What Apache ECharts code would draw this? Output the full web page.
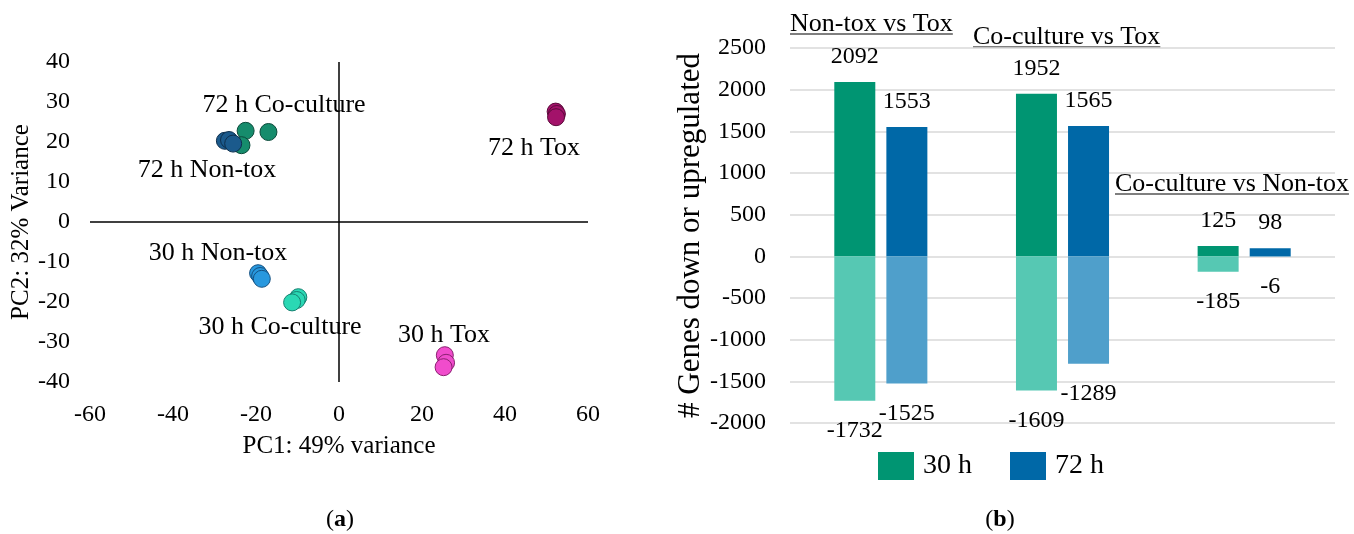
<!DOCTYPE html>
<html>
<head>
<meta charset="utf-8">
<script src="https://cdn.jsdelivr.net/npm/echarts@6/dist/echarts.min.js"></script>
<style>
  html, body { margin: 0; padding: 0; background: #fff; }
  #main { width: 1354px; height: 534px; }
</style>
</head>
<body>
<div id="main"></div>
<script>
var FONT = '"Liberation Serif", serif';

// (a) PCA scores, [PC1, PC2]
var pts72Coculture = [[-22.5, 22.8], [-17, 22.5], [-23.5, 19.2]];
var pts72Nontox = [[-27.5, 20.3], [-26.5, 20.5], [-25.5, 19.6]];
var pts72Tox = [[52.2, 27.6], [52.5, 27], [52.3, 26.2]];
var pts30Nontox = [[-19.5, -12.8], [-19, -13.5], [-18.6, -14.2]];
var pts30Coculture = [[-9.8, -18.8], [-10.2, -19.5], [-11.3, -20.1]];
var pts30Tox = [[25.5, -33.3], [25.8, -35.2], [25.2, -36.3]];

// (b) number of genes
var comparisons = ['Non-tox vs Tox', 'Co-culture vs Tox', 'Co-culture vs Non-tox'];
var up30 = [2092, 1952, 125];
var down30 = [-1732, -1609, -185];
var up72 = [1553, 1565, 98];
var down72 = [-1525, -1289, -6];

var myChart = echarts.init(document.getElementById('main'));

function measure(txt, font) {
  var ctx = document.createElement('canvas').getContext('2d');
  ctx.font = font;
  return ctx.measureText(txt).width;
}

function note(txt, x, y) {
  return {
    type: 'text', x: x, y: y, z: 10,
    style: { text: txt, font: '26px ' + FONT, fill: '#000', align: 'center', verticalAlign: 'middle' }
  };
}

function underlined(txt, x, y) {
  var f = '26px ' + FONT;
  var w = measure(txt, f);
  return {
    type: 'group', z: 10,
    children: [
      { type: 'text', x: x, y: y, style: { text: txt, font: f, fill: '#000', align: 'left', verticalAlign: 'middle' } },
      { type: 'line', shape: { x1: x, y1: y + 10, x2: x + w, y2: y + 10 }, style: { stroke: '#000', lineWidth: 1.2 } }
    ]
  };
}

function dots(name, data, color, border) {
  return {
    name: name, type: 'scatter', xAxisIndex: 0, yAxisIndex: 0,
    data: data, symbolSize: 17,
    itemStyle: { color: color, borderColor: border, borderWidth: 1, opacity: 1 }
  };
}

var labelTxt = { color: '#000', fontFamily: FONT, fontSize: 24 };
var plain = function (v) { return String(v); };

var option = {
  animation: false,
  textStyle: { fontFamily: FONT },
  grid: [
    { left: 90, top: 62, width: 498, height: 320 },
    { left: 790, top: 48, width: 545, height: 375 }
  ],
  xAxis: [
    {
      gridIndex: 0, type: 'value', min: -60, max: 60, interval: 20,
      axisLine: { show: false }, axisTick: { show: false }, splitLine: { show: false },
      axisLabel: { color: '#000', fontFamily: FONT, fontSize: 24, margin: 21, formatter: plain },
      name: 'PC1: 49% variance', nameLocation: 'middle', nameGap: 52,
      nameTextStyle: { color: '#000', fontFamily: FONT, fontSize: 25 }
    },
    {
      gridIndex: 1, type: 'category', data: comparisons,
      axisLine: { show: false }, axisTick: { show: false }, axisLabel: { show: false }
    }
  ],
  yAxis: [
    {
      gridIndex: 0, type: 'value', min: -40, max: 40, interval: 10,
      axisLine: { show: false }, axisTick: { show: false }, splitLine: { show: false },
      axisLabel: { color: '#000', fontFamily: FONT, fontSize: 24, margin: 20, formatter: plain },
      name: 'PC2: 32% Variance', nameLocation: 'middle', nameGap: 54,
      nameTextStyle: { color: '#000', fontFamily: FONT, fontSize: 25 }
    },
    {
      gridIndex: 1, type: 'value', min: -2000, max: 2500, interval: 500,
      axisLine: { show: false }, axisTick: { show: false },
      splitLine: { lineStyle: { color: '#d9d9d9', width: 1.5 } },
      axisLabel: { color: '#000', fontFamily: FONT, fontSize: 24, margin: 24, formatter: plain },
      name: '# Genes down or upregulated', nameLocation: 'middle', nameGap: 80,
      nameTextStyle: { color: '#000', fontFamily: FONT, fontSize: 31 }
    }
  ],
  legend: {
    data: ['30 h', '72 h'],
    left: 878, top: 452, padding: 0,
    icon: 'rect', itemWidth: 36, itemHeight: 28, itemGap: 38,
    textStyle: { color: '#000', fontFamily: FONT, fontSize: 28, padding: [0, 0, 0, 4] }
  },
  series: [
    Object.assign(dots('72 h Co-culture', pts72Coculture, '#168c6c', '#0b4a3a'), {
      markLine: {
        silent: true, symbol: 'none', label: { show: false },
        lineStyle: { color: '#000', width: 1.5, type: 'solid' },
        data: [{ xAxis: 0 }, { yAxis: 0 }]
      }
    }),
    dots('72 h Non-tox', pts72Nontox, '#1b5a8c', '#0d2f4d'),
    dots('72 h Tox', pts72Tox, '#a3126a', '#5a0a3a'),
    dots('30 h Non-tox', pts30Nontox, '#2898de', '#145080'),
    dots('30 h Co-culture', pts30Coculture, '#2ad8b4', '#168070'),
    dots('30 h Tox', pts30Tox, '#f04ccc', '#8a2070'),
    {
      name: '30 h', type: 'bar', xAxisIndex: 1, yAxisIndex: 1, stack: 's30',
      data: up30, barWidth: 41, barGap: '27%',
      itemStyle: { color: '#009572' },
      label: Object.assign({ show: true, position: 'top', distance: 13 }, labelTxt)
    },
    {
      name: '30 h down', type: 'bar', xAxisIndex: 1, yAxisIndex: 1, stack: 's30',
      data: down30, barWidth: 41, barGap: '27%',
      itemStyle: { color: '#56c8b3' },
      label: Object.assign({ show: true, position: 'bottom', distance: 18 }, labelTxt)
    },
    {
      name: '72 h', type: 'bar', xAxisIndex: 1, yAxisIndex: 1, stack: 's72',
      data: up72, barWidth: 41, barGap: '27%',
      itemStyle: { color: '#0068a7' },
      label: Object.assign({ show: true, position: 'top', distance: 13 }, labelTxt)
    },
    {
      name: '72 h down', type: 'bar', xAxisIndex: 1, yAxisIndex: 1, stack: 's72',
      data: down72, barWidth: 41, barGap: '27%',
      itemStyle: { color: '#4f9fcb' },
      label: Object.assign({ show: true, position: 'bottom', distance: 18 }, labelTxt)
    }
  ],
  graphic: [
    note('72 h Co-culture', 284, 105),
    note('72 h Non-tox', 207, 170),
    note('72 h Tox', 534, 148),
    note('30 h Non-tox', 218, 253),
    note('30 h Co-culture', 280, 327),
    note('30 h Tox', 444, 335),
    underlined(comparisons[0], 790, 24),
    underlined(comparisons[1], 973, 37),
    underlined(comparisons[2], 1115, 184),
    {
      type: 'text', x: 340, y: 520,
      style: { text: '({a|a})', font: '24px ' + FONT, fill: '#000', align: 'center', verticalAlign: 'middle',
        rich: { a: { fontFamily: FONT, fontSize: 24, fontWeight: 'bold' } } }
    },
    {
      type: 'text', x: 1000, y: 520,
      style: { text: '({a|b})', font: '24px ' + FONT, fill: '#000', align: 'center', verticalAlign: 'middle',
        rich: { a: { fontFamily: FONT, fontSize: 24, fontWeight: 'bold' } } }
    }
  ]
};
myChart.setOption(option);
</script>
</body>
</html>
